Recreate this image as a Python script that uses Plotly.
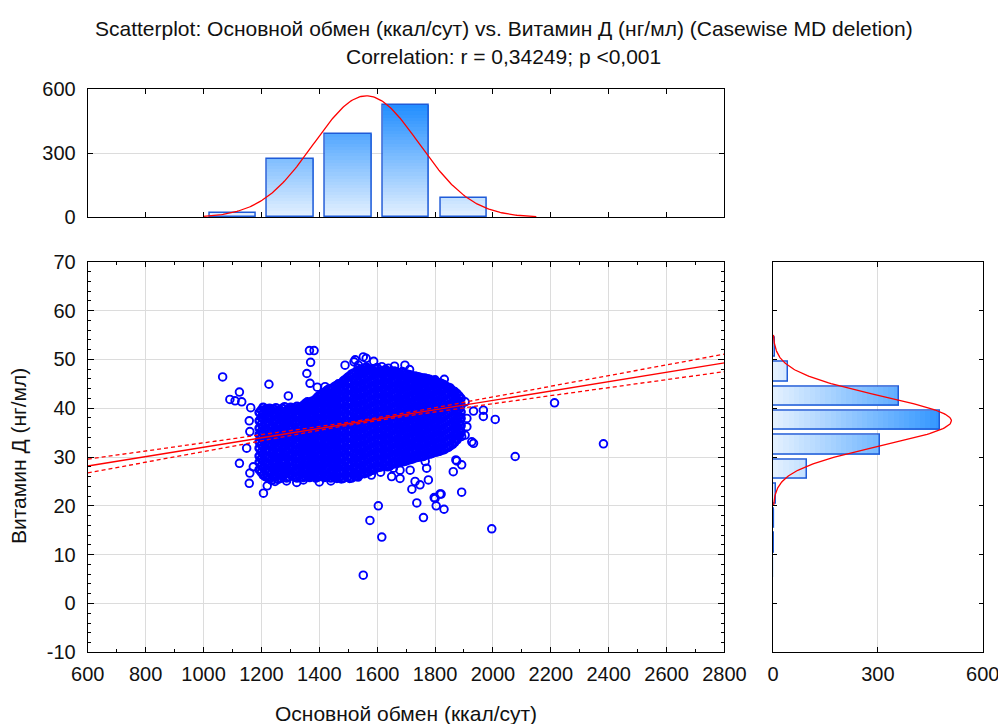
import numpy as np
import plotly.graph_objects as go

# ---------------------------------------------------------------------------
# Basal metabolism (kcal/day) vs vitamin D (ng/ml)
# Dense part of the cloud, stored as (kcal, [vitamin D readings]) columns
band_left = [
    (1192, [27.4, 28.9, 30.2, 31.8, 33.1, 34.6, 35.9, 37.4, 39.1]),
    (1206, [26.3, 27.8, 29.2, 30.6, 32.1, 33.5, 34.9, 36.2, 37.8, 39.0, 40.2]),
    (1221, [25.8, 27.1, 28.6, 30.0, 31.5, 32.7, 34.3, 35.5, 37.1, 38.4, 39.8]),
    (1236, [25.2, 26.8, 28.0, 29.6, 30.8, 32.4, 33.7, 35.2, 36.4, 38.0, 39.5]),
    (1250, [26.0, 27.4, 28.9, 30.2, 31.8, 33.0, 34.6, 35.8, 37.4, 38.7, 40.1]),
    (1265, [25.6, 27.0, 28.3, 29.9, 31.1, 32.7, 33.9, 35.5, 36.8, 38.3, 39.6]),
    (1280, [26.4, 27.8, 29.3, 30.5, 32.1, 33.3, 34.9, 36.2, 37.7, 38.9, 40.3]),
    (1294, [25.9, 27.2, 28.8, 30.1, 31.6, 32.9, 34.3, 35.8, 37.0, 38.5, 39.7]),
    (1309, [26.2, 27.7, 29.0, 30.5, 31.8, 33.4, 34.6, 36.1, 37.4, 38.9, 40.0]),
    (1323, [25.7, 27.1, 28.5, 29.9, 31.4, 32.7, 34.2, 35.4, 37.0, 38.2, 39.6, 40.4]),
    (1338, [26.5, 27.9, 29.2, 30.8, 32.0, 33.5, 34.8, 36.3, 37.6, 39.1, 40.2]),
    (1352, [26.0, 27.3, 28.9, 30.2, 31.7, 33.0, 34.5, 35.9, 37.2, 38.7, 39.9, 41.0]),
    (1367, [25.8, 27.2, 28.6, 30.1, 31.4, 32.9, 34.2, 35.7, 37.0, 38.5, 39.8, 41.1]),
    (1381, [26.3, 27.6, 29.1, 30.4, 31.9, 33.2, 34.7, 36.0, 37.5, 38.8, 40.3, 41.5]),
    (1396, [25.9, 27.4, 28.7, 30.2, 31.5, 33.0, 34.4, 35.8, 37.3, 38.6, 40.0, 41.3, 42.4]),
    (1410, [26.2, 27.5, 29.0, 30.4, 31.8, 33.3, 34.6, 36.1, 37.4, 38.9, 40.2, 41.7, 42.8]),
    (1425, [26.0, 27.5, 28.8, 30.3, 31.6, 33.1, 34.5, 35.8, 37.3, 38.6, 40.1, 41.4, 42.8, 43.6]),
    (1440, [25.7, 27.0, 28.6, 29.9, 31.4, 32.7, 34.2, 35.6, 36.9, 38.4, 39.7, 41.2, 42.5, 44.0]),
    (1454, [26.1, 27.6, 28.9, 30.4, 31.7, 33.2, 34.5, 36.0, 37.3, 38.8, 40.1, 41.6, 42.9, 44.5]),
]

band_left_b = [
    (1199, [26.9, 28.2, 29.6, 31.0, 32.5, 33.8, 35.2, 36.7, 38.1, 39.6]),
    (1213, [26.0, 27.3, 28.8, 30.1, 31.4, 32.9, 34.2, 35.7, 37.0, 38.5, 39.7]),
    (1228, [25.5, 26.9, 28.3, 29.7, 31.1, 32.4, 33.9, 35.0, 36.6, 37.9, 39.2, 40.0]),
    (1243, [25.9, 27.3, 28.6, 30.1, 31.3, 32.9, 34.1, 35.6, 37.0, 38.5, 39.8]),
    (1257, [25.4, 26.7, 28.2, 29.5, 31.0, 32.3, 33.8, 35.1, 36.6, 37.9, 39.4]),
    (1272, [26.1, 27.5, 28.9, 30.3, 31.6, 33.1, 34.4, 35.9, 37.2, 38.6, 40.0]),
    (1287, [25.7, 27.1, 28.4, 29.8, 31.3, 32.6, 34.1, 35.4, 36.9, 38.2, 39.5]),
    (1301, [26.4, 27.8, 29.2, 30.6, 32.0, 33.4, 34.7, 36.2, 37.6, 38.9, 40.2]),
    (1316, [25.9, 27.3, 28.7, 30.1, 31.5, 32.9, 34.3, 35.7, 37.1, 38.4, 39.8]),
    (1330, [26.3, 27.7, 29.0, 30.5, 31.9, 33.2, 34.6, 36.0, 37.4, 38.8, 40.1]),
    (1345, [25.8, 27.2, 28.6, 30.0, 31.3, 32.8, 34.1, 35.5, 36.9, 38.3, 39.6, 40.6]),
    (1359, [26.2, 27.6, 29.1, 30.4, 31.9, 33.2, 34.7, 36.0, 37.5, 38.9, 40.3, 41.3]),
    (1374, [26.0, 27.5, 28.9, 30.3, 31.7, 33.1, 34.5, 35.9, 37.3, 38.7, 40.1, 41.4]),
    (1388, [25.7, 27.0, 28.5, 29.8, 31.3, 32.6, 34.0, 35.4, 36.8, 38.2, 39.6, 41.0, 41.9]),
    (1403, [26.1, 27.5, 28.9, 30.3, 31.7, 33.1, 34.5, 35.9, 37.3, 38.7, 40.1, 41.5, 42.6]),
    (1417, [25.8, 27.3, 28.7, 30.1, 31.5, 32.9, 34.3, 35.7, 37.1, 38.5, 39.9, 41.3, 42.5, 43.2]),
    (1432, [26.2, 27.7, 29.1, 30.5, 31.9, 33.3, 34.7, 36.1, 37.5, 38.9, 40.3, 41.7, 43.0, 43.9]),
    (1447, [26.0, 27.4, 28.8, 30.2, 31.6, 33.0, 34.4, 35.8, 37.2, 38.6, 40.0, 41.4, 42.8, 44.1]),
    (1461, [25.6, 27.0, 28.4, 29.8, 31.2, 32.6, 34.0, 35.4, 36.8, 38.2, 39.6, 41.0, 42.4, 43.8, 44.7]),
]

band_mid = [
    (1469, [25.8, 27.1, 28.7, 30.0, 31.5, 32.8, 34.3, 35.6, 37.1, 38.4, 39.9, 41.2, 42.7, 44.0, 44.9]),
    (1483, [25.6, 27.0, 28.3, 29.9, 31.2, 32.7, 34.0, 35.5, 36.8, 38.3, 39.6, 41.1, 42.4, 43.9, 45.6]),
    (1498, [25.9, 27.4, 28.7, 30.2, 31.5, 33.0, 34.3, 35.8, 37.1, 38.6, 39.9, 41.4, 42.7, 44.2, 45.4, 46.3]),
    (1512, [25.7, 27.0, 28.6, 29.9, 31.4, 32.7, 34.2, 35.5, 37.0, 38.3, 39.8, 41.1, 42.6, 43.9, 45.4, 47.0]),
    (1527, [26.1, 27.6, 28.9, 30.4, 31.7, 33.2, 34.5, 36.0, 37.3, 38.8, 40.1, 41.6, 42.9, 44.4, 45.7, 47.4]),
    (1541, [26.4, 27.7, 29.3, 30.6, 32.1, 33.4, 34.9, 36.2, 37.7, 39.0, 40.5, 41.8, 43.3, 44.6, 46.1, 47.9]),
    (1556, [26.6, 28.1, 29.4, 30.9, 32.2, 33.7, 35.0, 36.5, 37.8, 39.3, 40.6, 42.1, 43.4, 44.9, 46.2, 47.6, 48.2]),
    (1570, [26.9, 28.2, 29.8, 31.1, 32.6, 33.9, 35.4, 36.7, 38.2, 39.5, 41.0, 42.3, 43.8, 45.1, 46.6, 48.0]),
    (1585, [27.3, 28.8, 30.1, 31.6, 32.9, 34.4, 35.7, 37.2, 38.5, 40.0, 41.3, 42.8, 44.1, 45.6, 46.9, 47.8]),
    (1600, [27.8, 29.1, 30.7, 32.0, 33.5, 34.8, 36.3, 37.6, 39.1, 40.4, 41.9, 43.2, 44.7, 46.0, 47.4, 48.3]),
    (1614, [28.0, 29.5, 30.8, 32.3, 33.6, 35.1, 36.4, 37.9, 39.2, 40.7, 42.0, 43.5, 44.8, 46.3, 47.6]),
    (1629, [28.3, 29.6, 31.2, 32.5, 34.0, 35.3, 36.8, 38.1, 39.6, 40.9, 42.4, 43.7, 45.2, 46.5, 47.9]),
    (1643, [28.1, 29.6, 30.9, 32.4, 33.7, 35.2, 36.5, 38.0, 39.3, 40.8, 42.1, 43.6, 44.9, 46.4, 47.4]),
    (1658, [28.6, 29.9, 31.5, 32.8, 34.3, 35.6, 37.1, 38.4, 39.9, 41.2, 42.7, 44.0, 45.5, 46.8, 47.6]),
    (1672, [28.8, 30.1, 31.7, 32.9, 34.5, 35.7, 37.3, 38.5, 40.1, 41.3, 42.9, 44.1, 45.7, 47.2]),
    (1687, [29.0, 30.5, 31.8, 33.3, 34.6, 36.1, 37.4, 38.9, 40.2, 41.7, 43.0, 44.5, 45.8, 47.5]),
    (1701, [29.2, 30.6, 32.1, 33.4, 34.9, 36.2, 37.7, 39.0, 40.5, 41.8, 43.3, 44.6, 46.1, 47.0]),
]

band_mid_b = [
    (1476, [25.5, 26.9, 28.3, 29.6, 31.1, 32.4, 33.9, 35.2, 36.7, 38.0, 39.5, 40.8, 42.3, 43.6, 45.1]),
    (1490, [26.2, 27.6, 29.0, 30.5, 31.8, 33.3, 34.6, 36.1, 37.4, 38.9, 40.2, 41.7, 43.0, 44.5, 45.9]),
    (1505, [25.6, 27.0, 28.4, 29.8, 31.2, 32.6, 34.0, 35.4, 36.8, 38.2, 39.6, 41.0, 42.4, 43.8, 45.2, 46.6]),
    (1519, [26.3, 27.7, 29.1, 30.6, 31.9, 33.4, 34.7, 36.2, 37.5, 39.0, 40.3, 41.8, 43.1, 44.6, 45.9, 47.2]),
    (1534, [25.9, 27.3, 28.7, 30.1, 31.5, 32.9, 34.3, 35.7, 37.1, 38.5, 39.9, 41.3, 42.7, 44.1, 45.5, 46.9, 47.7]),
    (1548, [26.7, 28.1, 29.5, 30.9, 32.3, 33.7, 35.1, 36.5, 37.9, 39.3, 40.7, 42.1, 43.5, 44.9, 46.3, 47.5]),
    (1563, [26.8, 28.2, 29.7, 31.0, 32.5, 33.8, 35.3, 36.6, 38.1, 39.4, 40.9, 42.2, 43.7, 45.0, 46.5, 47.8, 48.4]),
    (1577, [27.2, 28.6, 30.0, 31.4, 32.8, 34.2, 35.6, 37.0, 38.4, 39.8, 41.2, 42.6, 44.0, 45.4, 46.8, 47.9]),
    (1592, [27.6, 29.0, 30.4, 31.8, 33.2, 34.6, 36.0, 37.4, 38.8, 40.2, 41.6, 43.0, 44.4, 45.8, 47.2, 48.1]),
    (1607, [27.9, 29.3, 30.8, 32.1, 33.6, 34.9, 36.4, 37.7, 39.2, 40.5, 42.0, 43.3, 44.8, 46.1, 47.5]),
    (1621, [28.4, 29.8, 31.2, 32.6, 34.0, 35.4, 36.8, 38.2, 39.6, 41.0, 42.4, 43.8, 45.2, 46.6, 47.7]),
    (1636, [28.0, 29.4, 30.9, 32.2, 33.7, 35.0, 36.5, 37.8, 39.3, 40.6, 42.1, 43.4, 44.9, 46.2, 47.6]),
    (1650, [28.5, 29.9, 31.3, 32.7, 34.1, 35.5, 36.9, 38.3, 39.7, 41.1, 42.5, 43.9, 45.3, 46.7, 47.3]),
    (1665, [28.7, 30.1, 31.6, 32.9, 34.4, 35.7, 37.2, 38.5, 40.0, 41.3, 42.8, 44.1, 45.6, 46.9, 47.5]),
    (1680, [28.9, 30.3, 31.7, 33.1, 34.5, 35.9, 37.3, 38.7, 40.1, 41.5, 42.9, 44.3, 45.7, 47.0]),
    (1694, [29.1, 30.6, 31.9, 33.4, 34.7, 36.2, 37.5, 39.0, 40.3, 41.8, 43.1, 44.6, 45.9, 47.2]),
    (1709, [29.4, 30.8, 32.2, 33.6, 35.0, 36.4, 37.8, 39.2, 40.6, 42.0, 43.4, 44.8, 46.0, 46.9]),
]

band_right = [
    (1716, [29.5, 30.8, 32.4, 33.7, 35.2, 36.5, 38.0, 39.3, 40.8, 42.1, 43.6, 44.9, 46.1, 46.8]),
    (1730, [29.8, 31.3, 32.6, 34.1, 35.4, 36.9, 38.2, 39.7, 41.0, 42.5, 43.8, 45.3, 46.6]),
    (1745, [30.0, 31.4, 32.9, 34.2, 35.7, 37.0, 38.5, 39.8, 41.3, 42.6, 44.1, 45.3, 46.4]),
    (1759, [30.2, 31.7, 33.0, 34.5, 35.8, 37.3, 38.6, 40.1, 41.4, 42.9, 44.2, 45.6, 46.1]),
    (1774, [30.5, 31.9, 33.4, 34.7, 36.2, 37.5, 39.0, 40.3, 41.8, 43.1, 44.6, 46.0]),
    (1788, [30.7, 32.2, 33.5, 35.0, 36.3, 37.8, 39.1, 40.6, 41.9, 43.4, 44.7, 45.7]),
    (1803, [31.0, 32.4, 33.9, 35.2, 36.7, 38.0, 39.5, 40.8, 42.3, 43.6, 45.0, 45.4]),
    (1817, [31.2, 32.7, 34.0, 35.5, 36.8, 38.3, 39.6, 41.1, 42.4, 43.9, 45.2]),
    (1832, [31.5, 32.9, 34.4, 35.7, 37.2, 38.5, 40.0, 41.3, 42.8, 44.1, 44.8]),
    (1846, [32.0, 33.4, 34.9, 36.2, 37.7, 39.0, 40.5, 41.8, 43.2, 44.3]),
    (1861, [32.6, 34.0, 35.5, 36.8, 38.3, 39.6, 41.0, 42.3, 43.6]),
    (1876, [33.5, 34.9, 36.3, 37.7, 39.1, 40.4, 41.8, 43.0]),
    (1890, [35.0, 36.4, 37.9, 39.2, 40.6, 42.0]),
]

band_right_b = [
    (1723, [29.6, 31.1, 32.4, 33.9, 35.2, 36.7, 38.0, 39.5, 40.8, 42.3, 43.6, 45.1, 46.4]),
    (1737, [29.9, 31.3, 32.7, 34.1, 35.5, 36.9, 38.3, 39.7, 41.1, 42.5, 43.9, 45.3, 46.5]),
    (1752, [30.1, 31.6, 32.9, 34.4, 35.7, 37.2, 38.5, 40.0, 41.3, 42.8, 44.1, 45.5, 46.2]),
    (1766, [30.4, 31.8, 33.2, 34.6, 36.0, 37.4, 38.8, 40.2, 41.6, 43.0, 44.4, 45.8]),
    (1781, [30.6, 32.1, 33.4, 34.9, 36.2, 37.7, 39.0, 40.5, 41.8, 43.3, 44.6, 45.9]),
    (1795, [30.9, 32.3, 33.7, 35.1, 36.5, 37.9, 39.3, 40.7, 42.1, 43.5, 44.9, 45.6]),
    (1810, [31.1, 32.6, 33.9, 35.4, 36.7, 38.2, 39.5, 41.0, 42.3, 43.8, 45.1]),
    (1824, [31.4, 32.8, 34.2, 35.6, 37.0, 38.4, 39.8, 41.2, 42.6, 44.0, 45.0]),
    (1839, [31.8, 33.2, 34.6, 36.0, 37.4, 38.8, 40.2, 41.6, 43.0, 44.4]),
    (1853, [32.3, 33.7, 35.1, 36.5, 37.9, 39.3, 40.7, 42.1, 43.5, 44.1]),
    (1868, [33.0, 34.5, 35.8, 37.3, 38.6, 40.1, 41.4, 42.8, 43.4]),
    (1883, [34.2, 35.6, 37.0, 38.4, 39.8, 41.2, 42.5]),
]

# Sparse observations around the dense band
upper_points = [
    (1066, 46.4), (1124, 43.3), (1091, 41.8), (1109, 41.5), (1132, 41.3),
    (1163, 40.1), (1158, 37.4), (1160, 35.2), (1149, 31.8), (1124, 28.7),
    (1172, 28.0), (1226, 44.9), (1293, 42.5), (1366, 51.8), (1382, 51.8),
    (1370, 49.4), (1357, 47.1), (1368, 45.1), (1393, 44.3), (1420, 44.4),
    (1426, 42.4), (1466, 45.0), (1483, 44.4), (1489, 48.8), (1520, 49.5),
    (1535, 48.8), (1552, 50.5), (1562, 50.2), (1524, 49.9), (1534, 48.2),
    (1616, 48.5), (1639, 48.2), (1696, 48.8), (1731, 46.3), (1765, 46.2),
    (1800, 45.8), (1832, 45.9), (1869, 42.4), (1904, 41.3), (1933, 39.4),
    (1967, 39.6), (1967, 38.3), (2008, 37.7), (1910, 37.9), (1910, 36.2),
    (1904, 34.5), (1927, 33.1), (1869, 33.8), (1892, 34.2), (1933, 32.8),
    (1588, 49.6), (1660, 48.6), (1712, 47.9),
]

lower_points = [
    (1160, 26.7), (1158, 24.6), (1207, 22.6), (1220, 24.1), (1247, 25.0),
    (1287, 25.1), (1322, 24.8), (1345, 25.3), (1400, 24.9), (1440, 25.1),
    (1875, 29.2), (1892, 28.4), (1863, 27.0), (1872, 29.4), (1771, 27.7),
    (1714, 27.3), (1656, 27.7), (1679, 27.3), (1650, 26.0), (1679, 25.6),
    (1777, 25.3), (1731, 25.0), (1748, 24.3), (1720, 23.4), (1817, 22.4),
    (1800, 21.5), (1831, 19.3), (1804, 20.0), (1797, 21.7), (1821, 22.4),
    (1892, 22.8), (1737, 20.6), (1760, 17.6), (1604, 20.0), (1575, 17.0),
    (1616, 13.6), (1552, 5.8), (1524, 26.0), (1495, 27.0), (1662, 31.4),
    (1702, 29.7), (1760, 30.1), (1766, 29.1), (1580, 26.3), (1612, 26.9),
]

far_points = [(1996, 15.3), (2077, 30.1), (2213, 41.1), (2382, 32.7)]

# Histogram counts (bin centres)
kcal_bins = [1100, 1300, 1500, 1700, 1900]
kcal_counts = [19, 272, 389, 527, 89]
vitd_bins = [7.5, 12.5, 17.5, 22.5, 27.5, 32.5, 37.5, 42.5, 47.5, 52.5]
vitd_counts = [1, 2, 4, 10, 98, 305, 477, 361, 42, 5]

# Summary statistics
r_value = 0.34249
kcal_mean, kcal_sd = 1563.0, 182.0
vitd_mean, vitd_sd = 37.4, 5.1

# axis tick values
kcal_ticks = [600, 800, 1000, 1200, 1400, 1600, 1800, 2000, 2200, 2400, 2600, 2800]
vitd_ticks = [-10, 0, 10, 20, 30, 40, 50, 60, 70]
count_ticks = [0, 300, 600]

# ---------------------------------------------------------------------------
band_kcal, band_vitd = [], []
for band in (band_left, band_left_b, band_mid, band_mid_b, band_right, band_right_b):
    for x, ys in band:
        band_kcal.extend([x] * len(ys))
        band_vitd.extend(ys)
sparse_kcal, sparse_vitd = [], []
for pts in (upper_points, lower_points, far_points):
    for x, y in pts:
        sparse_kcal.append(x)
        sparse_vitd.append(y)
n_obs = sum(kcal_counts)

FONT = "Liberation Sans, Arial, sans-serif"
TXT = "#111111"
BLUE = "#0000FF"
OUTLINE = "#1F5BD8"
NOGRID = "rgba(0,0,0,0)"


def shade(v):
    t = min(v / 540.0, 1.0)
    lo, hi = (232, 243, 255), (30, 140, 255)
    return "rgb(%d,%d,%d)" % tuple(round(a + (b - a) * t) for a, b in zip(lo, hi))


fig = go.Figure()

# gradient-filled histograms: stacked levels, darker with larger counts
levels = list(range(600, 0, -15))
for L in levels:
    fig.add_trace(go.Bar(
        x=kcal_bins, y=[min(c, L) for c in kcal_counts], width=160,
        marker=dict(color=shade(L), line=dict(width=0)),
        xaxis="x2", yaxis="y2", hoverinfo="skip"))
fig.add_trace(go.Bar(
    x=kcal_bins, y=kcal_counts, width=160,
    marker=dict(color="rgba(0,0,0,0)", line=dict(color=OUTLINE, width=1.5)),
    xaxis="x2", yaxis="y2"))

for L in levels:
    fig.add_trace(go.Bar(
        y=vitd_bins, x=[min(c, L) for c in vitd_counts], width=4, orientation="h",
        marker=dict(color=shade(L), line=dict(width=0)),
        xaxis="x3", yaxis="y3", hoverinfo="skip"))
fig.add_trace(go.Bar(
    y=vitd_bins, x=vitd_counts, width=4, orientation="h",
    marker=dict(color="rgba(0,0,0,0)", line=dict(color=OUTLINE, width=1.5)),
    xaxis="x3", yaxis="y3"))


# fitted normal curves
def normal_counts(v, mean, sd, n, width):
    return n * width * np.exp(-0.5 * ((v - mean) / sd) ** 2) / (sd * np.sqrt(2 * np.pi))


xs = np.linspace(1000, 2150, 240)
fig.add_trace(go.Scatter(x=xs, y=normal_counts(xs, kcal_mean, kcal_sd, n_obs, 200),
                         mode="lines", line=dict(color="red", width=1.3),
                         xaxis="x2", yaxis="y2"))
ys_curve = np.linspace(20, 55, 240)
fig.add_trace(go.Scatter(x=normal_counts(ys_curve, vitd_mean, vitd_sd, sum(vitd_counts), 5),
                         y=ys_curve, mode="lines", line=dict(color="red", width=1.3),
                         xaxis="x3", yaxis="y3"))

# scatter: dense band and sparse observations share the same open-circle marker
fig.add_trace(go.Scatter(x=band_kcal, y=band_vitd, mode="markers",
                         marker=dict(symbol="circle-open", size=7.2, color=BLUE,
                                     line=dict(width=2.4)),
                         xaxis="x", yaxis="y"))
fig.add_trace(go.Scatter(x=sparse_kcal, y=sparse_vitd, mode="markers",
                         marker=dict(symbol="circle-open", size=7.6, color=BLUE,
                                     line=dict(width=1.9)),
                         xaxis="x", yaxis="y"))

# regression line with 95% confidence band
slope = r_value * vitd_sd / kcal_sd
intercept = vitd_mean - slope * kcal_mean
xl = np.linspace(600, 2800, 120)
yl = intercept + slope * xl
s_res = vitd_sd * np.sqrt(1 - r_value ** 2)
half = 1.96 * s_res * np.sqrt(1.0 / n_obs + (xl - kcal_mean) ** 2 / ((n_obs - 1) * kcal_sd ** 2))
fig.add_trace(go.Scatter(x=xl, y=yl, mode="lines", line=dict(color="red", width=1.4)))
for sign in (1, -1):
    fig.add_trace(go.Scatter(x=xl, y=yl + sign * half, mode="lines",
                             line=dict(color="red", width=1.3, dash="4px,3px")))

# ---------------------------------------------------------------------------
W, H = 998, 724
main_x = [87.8 / W, 724.4 / W]
main_y = [1 - 652.3 / H, 1 - 261.7 / H]
top_y = [1 - 217.3 / H, 1 - 89.0 / H]
side_x = [773.0 / W, 982.7 / W]

tickfont = dict(family=FONT, size=20, color=TXT)
frame = dict(showline=True, linecolor="black", linewidth=1.3, mirror="ticks",
             ticks="inside", tickcolor="black", zeroline=False, tickfont=tickfont,
             automargin=False, ticklabeloverflow="allow")
grid = dict(showgrid=True, gridcolor="#DCDCDC", gridwidth=1.4)
nogrid = dict(showgrid=False, gridcolor=NOGRID)


def labelled(vals):
    return dict(tickmode="array", tickvals=vals, ticktext=[str(v) for v in vals])


fig.update_layout(
    template="none",
    width=W, height=H, margin=dict(l=0, r=0, t=0, b=0, autoexpand=False),
    paper_bgcolor="white", plot_bgcolor="white",
    showlegend=False, barmode="overlay", bargap=0,
    xaxis=dict(domain=main_x, range=[600, 2800], anchor="y", **labelled(kcal_ticks),
               ticklen=5, **grid, **frame, ticklabelstandoff=4,
               minor=dict(ticks="inside", dtick=100, tick0=600, ticklen=3,
                          tickcolor="black", showgrid=False)),
    yaxis=dict(domain=main_y, range=[-10, 70], anchor="x", **labelled(vitd_ticks),
               ticklen=6, **grid, **frame, ticklabelstandoff=7,
               minor=dict(ticks="inside", dtick=2, tick0=0, ticklen=3,
                          tickcolor="black", showgrid=False)),
    xaxis2=dict(domain=main_x, range=[600, 2800], anchor="y2", dtick=200, tick0=600,
                ticklen=5, showticklabels=False, **nogrid, **frame),
    yaxis2=dict(domain=top_y, range=[0, 600], anchor="x2", **labelled(count_ticks),
                ticklen=5, **grid, **frame, ticklabelstandoff=7),
    xaxis3=dict(domain=side_x, range=[0, 600], anchor="y3", **labelled(count_ticks),
                ticklen=5, **grid, **frame, ticklabelstandoff=4),
    yaxis3=dict(domain=main_y, range=[-10, 70], anchor="x3", dtick=10, tick0=0,
                ticklen=4, showticklabels=False, **nogrid, **frame),
    annotations=[
        dict(text="Scatterplot: Основной обмен (ккал/сут) vs. Витамин Д (нг/мл) (Casewise MD deletion)",
             x=504 / W, y=1 - 28 / H, xref="paper", yref="paper", showarrow=False,
             xanchor="center", yanchor="middle", font=dict(family=FONT, size=21, color=TXT)),
        dict(text="Correlation: r = 0,34249; p <0,001",
             x=503 / W, y=1 - 57 / H, xref="paper", yref="paper", showarrow=False,
             xanchor="center", yanchor="middle", font=dict(family=FONT, size=21, color=TXT)),
        dict(text="Основной обмен (ккал/сут)",
             x=406 / W, y=1 - 713 / H, xref="paper", yref="paper", showarrow=False,
             xanchor="center", yanchor="middle", font=dict(family=FONT, size=21, color=TXT)),
        dict(text="Витамин Д (нг/мл)", textangle=-90,
             x=19 / W, y=1 - 456 / H, xref="paper", yref="paper", showarrow=False,
             xanchor="center", yanchor="middle", font=dict(family=FONT, size=21, color=TXT)),
    ],
)

fig.write_html("out.html")
